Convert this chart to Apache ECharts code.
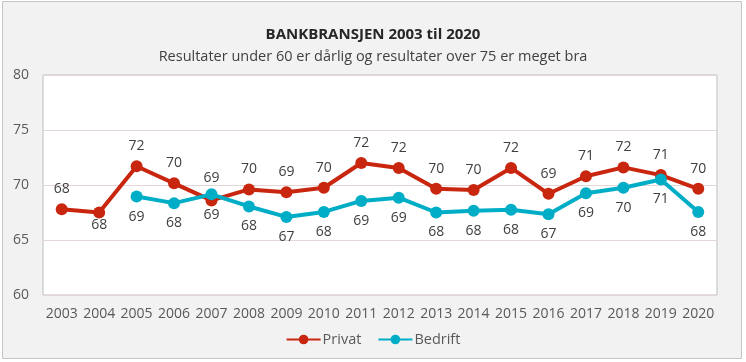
<!DOCTYPE html>
<html>
<head>
<meta charset="utf-8">
<script src="https://cdn.jsdelivr.net/npm/echarts@6/dist/echarts.min.js"></script>
<style>
html,body{margin:0;padding:0;background:#fff;}
#chart{width:746px;height:362px;}
</style>
</head>
<body>
<div id="chart"></div>
<script>
const years = ['2003','2004','2005','2006','2007','2008','2009','2010','2011','2012','2013','2014','2015','2016','2017','2018','2019','2020'];
const privat = [67.8, 67.5, 71.7, 70.15, 68.6, 69.6, 69.35, 69.75, 72.0, 71.55, 69.65, 69.55, 71.55, 69.2, 70.8, 71.6, 70.9, 69.65];
const bedrift = [null, null, 68.95, 68.35, 69.15, 68.05, 67.1, 67.55, 68.55, 68.85, 67.5, 67.65, 67.75, 67.35, 69.25, 69.75, 70.5, 67.55];
const yTicks = {min: 60, max: 80, step: 5};

const RED = '#c9260f', TEAL = '#00adc6';
const font = '"Open Sans", "Liberation Sans", sans-serif';

function labelFor(series, i, defPos) {
  // layout overrides for individual labels (style only)
  const overrides = {
    privat: {1: ['bottom', 0], 4: ['bottom', 2]},
    bedrift: {4: ['top', 3]}
  };
  const o = overrides[series][i];
  return {position: o ? o[0] : defPos, distance: o ? o[1] : 7};
}

function makeData(vals, name, defPos) {
  return vals.map((v, i) => v == null ? null : {value: v, label: labelFor(name, i, defPos)});
}

const chart = echarts.init(document.getElementById('chart'), null, {renderer: 'canvas'});
chart.setOption({
  backgroundColor: '#ffffff',
  animation: false,
  graphic: [{
    type: 'rect', z: -100, silent: true,
    shape: {x: 2.5, y: 1.5, width: 739, height: 357},
    style: {fill: '#f2f2f2', stroke: '#c4c4c4', lineWidth: 1}
  }],
  title: {
    text: 'BANKBRANSJEN 2003 til 2020',
    subtext: 'Resultater under 60 er dårlig og resultater over 75 er meget bra',
    left: 'center', top: 22, itemGap: 7,
    textStyle: {fontFamily: font, fontSize: 15, fontWeight: 'bold', color: '#262626'},
    subtextStyle: {fontFamily: font, fontSize: 14.5, color: '#404040'}
  },
  legend: {
    bottom: 10, left: 'center', itemWidth: 34, itemHeight: 12, itemGap: 16,
    textStyle: {fontFamily: font, fontSize: 14.5, color: '#595959', padding: [0,0,0,-3]},
    data: ['Privat', 'Bedrift']
  },
  grid: {
    left: 43, right: 29, top: 75, bottom: 67,
    show: true, backgroundColor: '#ffffff', borderColor: '#bfbfbf', borderWidth: 1
  },
  xAxis: {
    type: 'category', data: years, boundaryGap: true,
    axisLine: {show: false}, axisTick: {show: false},
    axisLabel: {fontFamily: font, fontSize: 14, color: '#595959', margin: 12, interval: 0}
  },
  yAxis: {
    type: 'value', min: yTicks.min, max: yTicks.max, interval: yTicks.step,
    axisLine: {show: false}, axisTick: {show: false},
    axisLabel: {fontFamily: font, fontSize: 14, color: '#595959', margin: 14},
    splitLine: {lineStyle: {color: '#e2d6d6', width: 1}}
  },
  series: [{
    name: 'Privat', type: 'line', data: makeData(privat, 'privat', 'top'),
    symbol: 'circle', symbolSize: 12,
    lineStyle: {color: RED, width: 4}, itemStyle: {color: RED},
    label: {show: true, fontFamily: font, fontSize: 14, color: '#404040',
      formatter: p => Math.round(p.value)},
    z: 3
  }, {
    name: 'Bedrift', type: 'line', data: makeData(bedrift, 'bedrift', 'bottom'),
    symbol: 'circle', symbolSize: 12,
    lineStyle: {color: TEAL, width: 4}, itemStyle: {color: TEAL},
    label: {show: true, fontFamily: font, fontSize: 14, color: '#404040',
      formatter: p => Math.round(p.value)},
    z: 4
  }]
});
</script>
</body>
</html>
